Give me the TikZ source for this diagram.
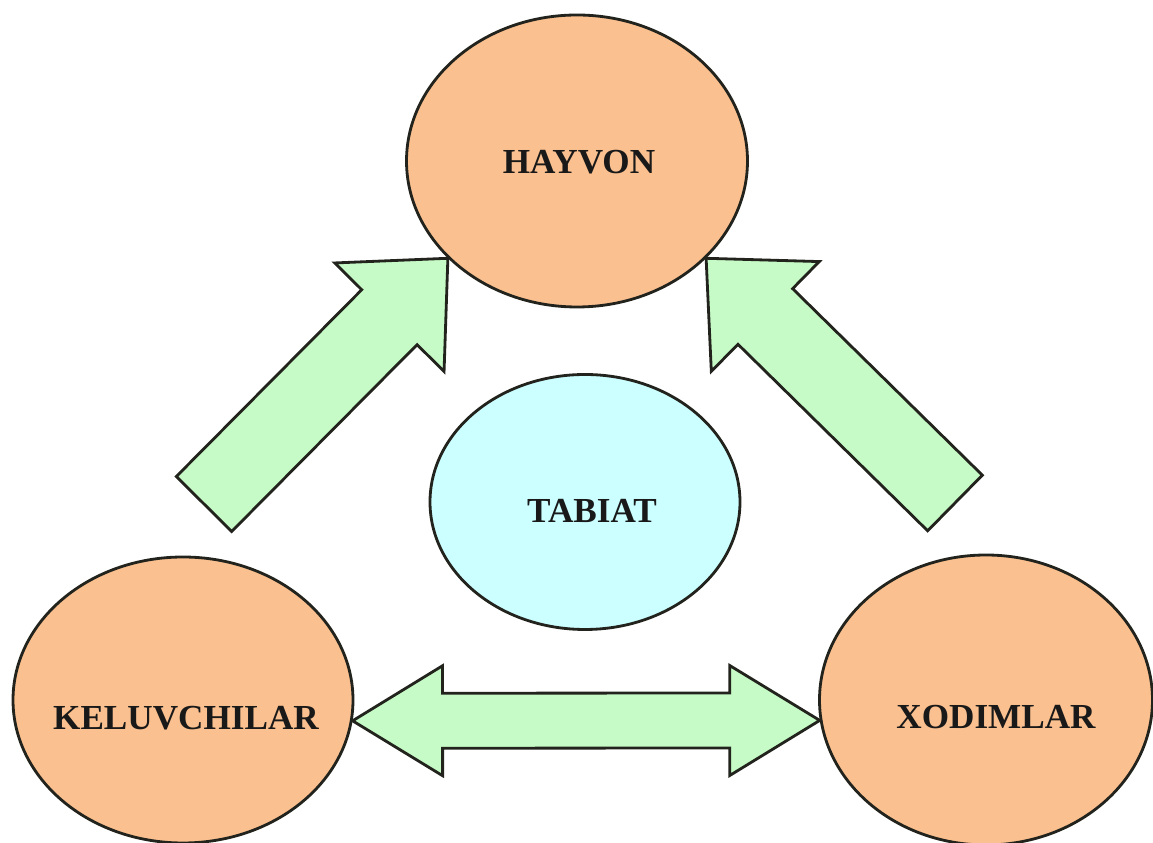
\documentclass[tikz,border=0pt]{standalone}
\usepackage{fontspec}
\setmainfont{Liberation Serif}
\usetikzlibrary{shapes.geometric,calc}

\definecolor{peach}{RGB}{250,192,143}
\definecolor{mint}{RGB}{198,250,198}
\definecolor{paleblue}{RGB}{204,255,255}
\definecolor{rim}{RGB}{35,35,30}

% fat arrow: tail, tip, half shaft, half head, head length
\newcommand{\blockarrow}[5]{%
  \coordinate (neck) at ($(#2)!#5!(#1)$);
  \filldraw[arrowbody] ($(#1)!#3!90:(#2)$) -- ($(neck)!#3!90:(#2)$) -- ($(neck)!#4!90:(#2)$) -- (#2)
    -- ($(neck)!#4!-90:(#2)$) -- ($(neck)!#3!-90:(#2)$) -- ($(#1)!#3!-90:(#2)$) -- cycle;
}
% fat arrow with two heads: tip, tip, half shaft, half head, head length
\newcommand{\doubleblockarrow}[5]{%
  \coordinate (necka) at ($(#1)!#5!(#2)$);
  \coordinate (neckb) at ($(#2)!#5!(#1)$);
  \filldraw[arrowbody] (#1) -- ($(necka)!#4!90:(#2)$) -- ($(necka)!#3!90:(#2)$)
    -- ($(neckb)!#3!-90:(#1)$) -- ($(neckb)!#4!-90:(#1)$) -- (#2)
    -- ($(neckb)!#4!90:(#1)$) -- ($(neckb)!#3!90:(#1)$)
    -- ($(necka)!#3!-90:(#2)$) -- ($(necka)!#4!-90:(#2)$) -- cycle;
}

\begin{document}
\begin{tikzpicture}[x=0.1mm, y=-0.1mm,
    bubble/.style={draw=rim, ellipse, line width=0.8pt, inner sep=0pt},
    tag/.style={font=\bfseries\fontsize{10}{12}\selectfont, text=black!90, inner sep=0pt},
    arrowbody/.style={draw=rim, fill=mint, line width=0.8pt}]
    \useasboundingbox (0,0) rectangle (1153,843);

    % Ellipses
    \node[bubble, fill=peach, minimum width=34.1mm, minimum height=29.2mm] (hayvon) at (577,161) {};
    \node[bubble, fill=paleblue, minimum width=31mm, minimum height=25.5mm] (tabiat) at (585,502) {};
    \node[bubble, fill=peach, minimum width=34mm, minimum height=28.6mm] (keluv) at (183,700) {};
    \node[bubble, fill=peach, minimum width=33.3mm, minimum height=29mm] (xodim) at (986,700) {};

    % Texts
    \node[tag] (hayvontxt) at ($(hayvon)+(2,1)$) {HAYVON};
    \node[tag] (tabiattxt) at ($(tabiat)+(7,9)$) {TABIAT};
    \node[tag] (keluvtxt) at ($(keluv)+(3,18)$) {KELUVCHILAR};
    \node[tag] (xodimtxt) at ($(xodim)+(10,17)$) {XODIMLAR};

    % Arrows
    \coordinate (lefttail) at (204,504);
    \coordinate (righttail) at (955,503);
    \blockarrow{lefttail}{hayvon.217}{3.9mm}{7.7mm}{8.3mm}
    \blockarrow{righttail}{hayvon.323}{3.9mm}{7.7mm}{8.3mm}
    \doubleblockarrow{keluv.-7}{xodim.187}{2.75mm}{5.5mm}{9mm}
\end{tikzpicture}
\end{document}
